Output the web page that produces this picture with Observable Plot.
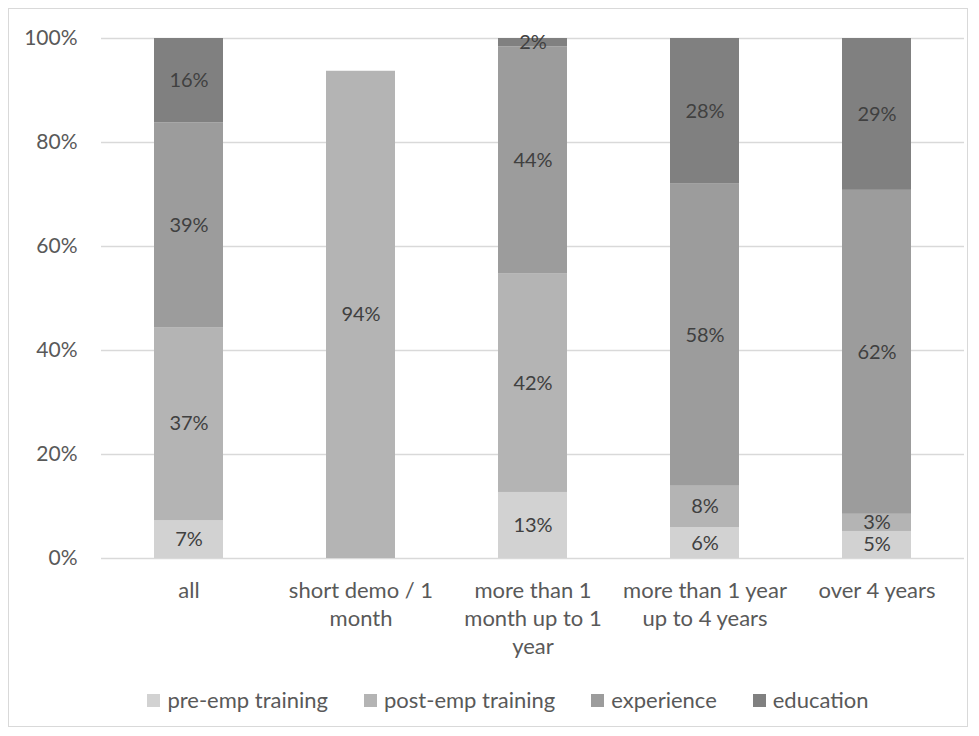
<!DOCTYPE html>
<html>
<head>
<meta charset="utf-8">
<script src="https://cdn.jsdelivr.net/npm/d3@7"></script>
<script src="https://cdn.jsdelivr.net/npm/@observablehq/plot@0.6"></script>
<style>
  html, body { margin: 0; padding: 0; background: #fff; }
  #wrap { position: relative; width: 979px; height: 736px; overflow: hidden; font-family: Lato, "Open Sans", sans-serif; }
  #frame { position: absolute; left: 8px; top: 8px; width: 960px; height: 719px; border: 1px solid #d9d9d9; box-sizing: border-box; pointer-events: none; }
  #chart { position: absolute; left: 0; top: 0; }
  #legend { position: absolute; left: 0; width: 1016px; top: 687px; display: flex; justify-content: center; gap: 36px; font-size: 22px; color: #595959; line-height: 26px; }
  .item { display: flex; align-items: center; gap: 7px; }
  .sw { width: 13px; height: 13px; display: inline-block; }
</style>
</head>
<body>
<div id="wrap">
  <div id="frame"></div>
  <div id="chart"></div>
  <div id="legend"></div>
</div>
<script>
const categories = ["all", "short demo / 1 month", "more than 1 month up to 1 year", "more than 1 year up to 4 years", "over 4 years"];
const tickLabels = ["all", "short demo / 1\nmonth", "more than 1\nmonth up to 1\nyear", "more than 1 year\nup to 4 years", "over 4 years"];
const series = ["pre-emp training", "post-emp training", "experience", "education"];
const preEmp = [7.3, 0, 12.7, 5.9, 5.2];
const postEmp = [37.1, 93.7, 42.0, 8.0, 3.3];
const experience = [39.4, 0, 43.7, 58.1, 62.3];
const education = [16.2, 0, 1.6, 28.0, 29.2];
const colors = ["#d2d2d2", "#b4b4b4", "#9c9c9c", "#808080"];
const yTicks = [0, 20, 40, 60, 80, 100];

const seriesValues = [preEmp, postEmp, experience, education];
const rows = [];
categories.forEach((c, i) => {
  series.forEach((s, j) => {
    const v = seriesValues[j][i];
    if (v > 0) rows.push({category: c, series: s, value: v});
  });
});

const chart = Plot.plot({
  width: 979,
  height: 736,
  marginTop: 38,
  marginBottom: 178,
  marginLeft: 101,
  marginRight: 15,
  style: {fontFamily: "Lato, 'Open Sans', sans-serif", fontSize: "21px", color: "#595959", background: "transparent"},
  x: {domain: categories, paddingInner: 0.6, paddingOuter: 0.3, axis: null},
  y: {domain: [0, 100], axis: null},
  color: {domain: series, range: colors},
  marks: [
    Plot.ruleY(yTicks, {stroke: "#d9d9d9", strokeWidth: 1.3}),
    Plot.axisY({ticks: yTicks, tickFormat: d => d + "%", tickSize: 0, tickPadding: 24, fontSize: 21, fill: "#595959", label: null}),
    Plot.barY(rows, {x: "category", y: "value", fill: "series", order: series}),
    Plot.text(rows, Plot.stackY({x: "category", y: "value", z: "series", order: series, text: d => Math.round(d.value) + "%", fill: "#404040", fontSize: 20})),
    Plot.text(categories, {x: d => d, frameAnchor: "bottom", dy: 20, lineAnchor: "top", lineHeight: 1.27, text: (d, i) => tickLabels[i], fill: "#595959", fontSize: 22})
  ]
});
document.getElementById("chart").appendChild(chart);

const legend = document.getElementById("legend");
series.forEach((s, i) => {
  const item = document.createElement("div");
  item.className = "item";
  const sw = document.createElement("span");
  sw.className = "sw";
  sw.style.background = colors[i];
  const lab = document.createElement("span");
  lab.textContent = s;
  item.appendChild(sw);
  item.appendChild(lab);
  legend.appendChild(item);
});
</script>
</body>
</html>
